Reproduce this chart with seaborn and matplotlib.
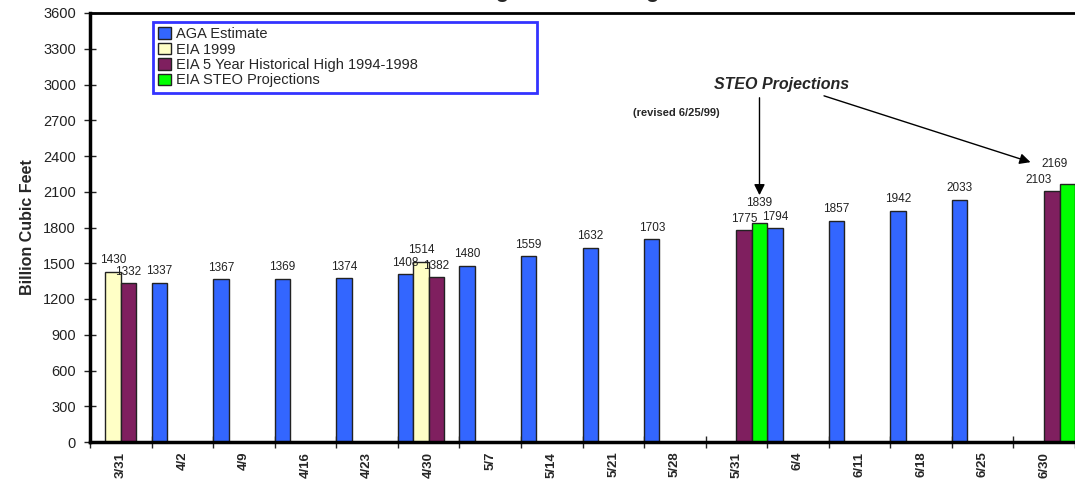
import pandas as pd
import matplotlib.pyplot as plt
import seaborn as sns

dates = ['3/31', '4/2', '4/9', '4/16', '4/23', '4/30', '5/7', '5/14',
         '5/21', '5/28', '5/31', '6/4', '6/11', '6/18', '6/25', '6/30']
nan = float('nan')
aga = [nan, 1337, 1367, 1369, 1374, 1408, 1480, 1559,
       1632, 1703, nan, 1794, 1857, 1942, 2033, nan]
eia_1999 = [1430, nan, nan, nan, nan, 1514, nan, nan,
            nan, nan, nan, nan, nan, nan, nan, nan]
eia_high = [1332, nan, nan, nan, nan, 1382, nan, nan,
            nan, nan, 1775, nan, nan, nan, nan, 2103]
steo = [nan, nan, nan, nan, nan, nan, nan, nan,
        nan, nan, 1839, nan, nan, nan, nan, 2169]
series = ['AGA Estimate', 'EIA 1999', 'EIA 5 Year Historical High 1994-1998',
          'EIA STEO Projections']
colors = ['#3366FF', '#FFFFC6', '#7F1F5F', '#00FF00']

rows = []
for name, vals in zip(series, [aga, eia_1999, eia_high, steo]):
    for d, v in zip(dates, vals):
        rows.append({'date': d, 'series': name, 'value': v})
df = pd.DataFrame(rows)

sns.set_style('white')
plt.rcParams['font.family'] = ['Liberation Sans', 'DejaVu Sans']

fig = plt.figure(figsize=(10.75, 4.79), dpi=100)
ax = fig.add_axes([90 / 1075, 37 / 479, 985 / 1075, 429 / 479])

sns.barplot(data=df, x='date', y='value', hue='series', order=dates,
            hue_order=series, palette=dict(zip(series, colors)),
            saturation=1, width=1.0, gap=0, edgecolor='#222222',
            linewidth=1, ax=ax, legend=True)

labs = []
for i, c in enumerate(ax.containers):
    pad = 10 if i == 3 else 4
    labs.append(ax.bar_label(c, fmt='%d', fontsize=8.5, padding=pad,
                             color='#222222'))
# 6/30 labels sit left of their bars, like the original
labs[2][-1].set_horizontalalignment('right')
labs[3][-1].set_horizontalalignment('right')

ax.set_xlim(-0.5, -0.5 + 985 / 61.7)
ax.set_ylim(0, 3600)
ax.set_yticks(range(0, 3601, 300))
ax.tick_params(axis='y', direction='inout', length=8, width=1,
               labelsize=10.5, colors='#222222', left=True, pad=6)
ax.set_xticks(range(len(dates)))
ax.set_xticklabels(dates, rotation=90, fontweight='bold', fontsize=9.5)
ax.tick_params(axis='x', length=0, pad=7)
ax.set_xticks([i - 0.5 for i in range(len(dates) + 1)], minor=True)
ax.tick_params(axis='x', which='minor', direction='inout', length=8,
               width=1, bottom=True)
ax.set_xlabel('')
ax.set_ylabel('Billion Cubic Feet', fontweight='bold', fontsize=11.5,
              labelpad=6)

for s in ['left', 'bottom', 'top']:
    ax.spines[s].set_visible(True)
    ax.spines[s].set_color('black')
ax.spines['left'].set_linewidth(2.5)
ax.spines['bottom'].set_linewidth(2.5)
ax.spines['top'].set_linewidth(2)
ax.spines['right'].set_visible(False)

handles, labels = ax.get_legend_handles_labels()
leg = ax.legend(handles, labels, loc='upper left',
                bbox_to_anchor=(0.064, 0.979, 0.39, 0.0), mode='expand',
                fontsize=10.5, frameon=True, fancybox=False,
                handlelength=0.9, handleheight=0.8, handletextpad=0.3,
                labelspacing=0.1, borderpad=0.35, borderaxespad=0)
leg.get_frame().set_edgecolor('#0000FF')
leg.get_frame().set_linewidth(2)

ax.annotate('', xy=(10.375, 2048), xytext=(10.375, 2912),
            arrowprops=dict(arrowstyle='-|>', color='black', lw=1,
                            mutation_scale=16))
ax.annotate('', xy=(14.82, 2341), xytext=(11.38, 2912),
            arrowprops=dict(arrowstyle='-|>', color='black', lw=1,
                            mutation_scale=16))
ax.text(10.73, 2996, 'STEO Projections', ha='center', va='center',
        fontsize=11.5, fontweight='bold', fontstyle='italic')
ax.text(9.03, 2761, '(revised 6/25/99)', ha='center', va='center',
        fontsize=8, fontweight='bold')

# title sits above the visible area, only descenders show
fig.text(546 / 1075, 1 + 3.5 / 479, 'Working Gas in Storage', ha='center',
         va='baseline', fontsize=16, fontweight='bold')

fig.savefig('out.png', dpi=100)
